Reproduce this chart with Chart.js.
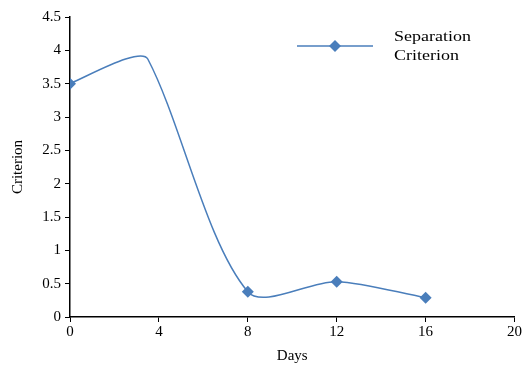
<!DOCTYPE html>
<html><head><meta charset="utf-8">
<script src="https://cdn.jsdelivr.net/npm/chart.js@4"></script>
<style>html,body{margin:0;padding:0;background:#fff;}#wrap{width:523px;height:366px;}</style>
</head><body><div id="wrap"><canvas id="c" width="523" height="366"></canvas></div>
<script>
const days = [0, 2.5, 3.5, 8, 12, 16];
const criterion = [3.5, 3.87, 3.87, 0.38, 0.53, 0.29];
const markerShown = [true, false, false, true, true, true];
const seriesName = ['Separation', 'Criterion'];
const xTitle = 'Days';
const yTitle = 'Criterion';
const xTicks = [0, 4, 8, 12, 16, 20];
const yTicks = [0, 0.5, 1, 1.5, 2, 2.5, 3, 3.5, 4, 4.5];

const lineColor = '#4A7EBB';
const font = "'Liberation Serif', 'Times New Roman', serif";

const legendPlugin = {
  id: 'customLegend',
  afterDraw(chart) {
    const ctx = chart.ctx;
    ctx.save();
    ctx.strokeStyle = lineColor;
    ctx.lineWidth = 1.5;
    ctx.beginPath(); ctx.moveTo(297, 46); ctx.lineTo(373, 46); ctx.stroke();
    ctx.fillStyle = lineColor;
    ctx.beginPath(); ctx.moveTo(335, 40); ctx.lineTo(341, 46); ctx.lineTo(335, 52); ctx.lineTo(329, 46); ctx.closePath(); ctx.fill();
    ctx.fillStyle = '#000';
    ctx.font = '15px ' + font;
    ctx.textBaseline = 'middle';
    ctx.translate(394, 0);
    ctx.scale(1.2, 1);
    ctx.fillText(seriesName[0], 0, 37);
    ctx.fillText(seriesName[1], 0, 56);
    ctx.restore();
  }
};

new Chart(document.getElementById('c'), {
  type: 'line',
  data: {
    datasets: [{
      label: seriesName.join(' '),
      data: days.map((d, i) => ({x: d, y: criterion[i]})),
      borderColor: lineColor,
      backgroundColor: lineColor,
      borderWidth: 1.5,
      tension: 0.3,
      pointStyle: 'rectRot',
      pointRadius: markerShown.map(s => s ? 6 : 0),
      pointBorderWidth: 0,
      fill: false
    }]
  },
  options: {
    responsive: false,
    animation: false,
    layout: {padding: {left: 0, right: 7, top: 17, bottom: 0}},
    plugins: {legend: {display: false}, tooltip: {enabled: false}},
    scales: {
      x: {
        type: 'linear', min: 0, max: 20,
        afterBuildTicks: s => { s.ticks = xTicks.map(v => ({value: v})); },
        afterFit: s => { s.height = 49; },
        border: {color: '#000', width: 1.5},
        grid: {drawOnChartArea: false, color: '#000', tickLength: 5},
        ticks: {color: '#000', font: {family: font, size: 15}, padding: 1, maxRotation: 0, callback: v => String(v)},
        title: {display: true, text: xTitle, color: '#000', font: {family: font, size: 15}, padding: {top: 0, bottom: 1}}
      },
      y: {
        min: 0, max: 4.5,
        afterBuildTicks: s => { s.ticks = yTicks.map(v => ({value: v})); },
        afterFit: s => { s.width = 70; },
        border: {color: '#000', width: 1.5},
        grid: {drawOnChartArea: false, color: '#000', tickLength: 5},
        ticks: {color: '#000', font: {family: font, size: 15}, padding: 4, callback: v => String(v)},
        title: {display: true, text: yTitle, color: '#000', font: {family: font, size: 15}, padding: {top: 9, bottom: 0}}
      }
    }
  },
  plugins: [legendPlugin]
});
</script></body></html>
